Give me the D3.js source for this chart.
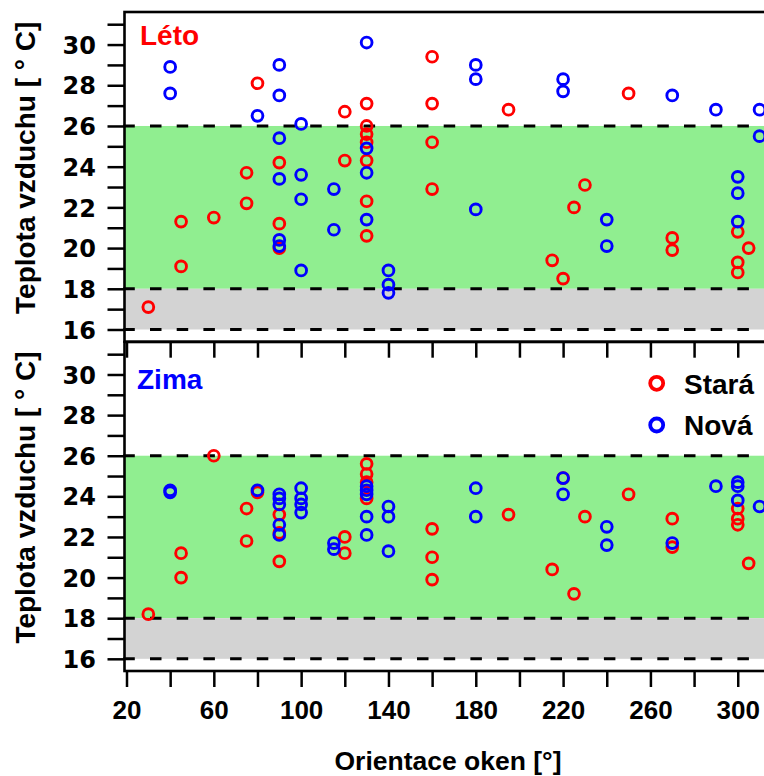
<!DOCTYPE html>
<html><head><meta charset="utf-8">
<script src="https://cdn.jsdelivr.net/npm/d3@7"></script>
<style>body{margin:0;background:#fff}svg{display:block}</style>
</head><body>
<svg id="c" width="764" height="776"></svg>
<script>
// [orientace °, teplota °C]
const letoStara = [[30,17.1],[45,21.3],[45,19.1],[60,21.5],[75,23.7],[75,22.2],[80,28.1],[90,24.2],[90,21.2],[90,20.0],
  [120,26.7],[120,24.3],[130,27.1],[130,26.0],[130,25.6],[130,25.2],[130,24.3],[130,22.3],[130,20.6],
  [160,29.4],[160,27.1],[160,25.2],[160,22.9],[195,26.8],[215,19.4],[220,18.5],[225,22.0],[230,23.1],
  [250,27.6],[270,20.5],[270,19.9],[300,20.8],[300,19.3],[300,18.8],[305,20.0]];
const letoNova = [[40,28.9],[40,27.6],[80,26.5],[90,29.0],[90,27.5],[90,25.4],[90,23.4],[90,20.4],[90,20.1],
  [100,26.1],[100,23.6],[100,22.4],[100,18.9],[115,22.9],[115,20.9],[130,30.1],[130,24.9],[130,23.7],[130,21.4],
  [140,18.9],[140,18.2],[140,17.8],[180,29.0],[180,28.3],[180,21.9],[220,28.3],[220,27.7],[240,21.4],[240,20.1],
  [270,27.5],[290,26.8],[300,23.5],[300,22.7],[300,21.3],[310,26.8],[310,25.5]];
const zimaStara = [[30,18.2],[45,21.2],[45,20.0],[60,26.0],[75,23.4],[75,21.8],[80,24.2],[90,23.1],[90,22.2],[90,20.8],
  [120,22.0],[120,21.2],[130,25.6],[130,25.1],[130,24.7],[130,23.9],[160,22.4],[160,21.0],[160,19.9],[195,23.1],
  [215,20.4],[220,24.9],[225,19.2],[230,23.0],[250,24.1],[270,22.9],[270,21.5],[300,23.4],[300,22.9],[300,22.6],[305,20.7]];
const zimaNova = [[40,24.3],[40,24.2],[80,24.3],[90,24.1],[90,23.9],[90,23.6],[90,22.6],[90,22.1],
  [100,24.4],[100,23.9],[100,23.6],[100,23.2],[115,21.7],[115,21.4],[130,24.5],[130,24.3],[130,24.1],[130,23.0],[130,22.1],
  [140,23.5],[140,23.0],[140,21.3],[180,24.4],[180,23.0],[220,24.9],[220,24.1],[240,22.5],[240,21.6],[270,21.7],
  [290,24.5],[300,24.7],[300,24.5],[300,23.8],[310,23.5]];

const xTicks = d3.range(20, 321, 20);
const xLabels = [20, 60, 100, 140, 180, 220, 260, 300];
const yTicks = d3.range(16, 32, 1);
const yLabels = [16, 18, 20, 22, 24, 26, 28, 30];
const comfortBand = [18, 26];
const coldBand = [16, 18];
const refLines = [16, 18, 26];
const seriesNames = ["Stará", "Nová"];
const panelNames = ["Léto", "Zima"];
const xTitle = "Orientace oken [°]";
const yTitle = "Teplota vzduchu [ ° C]";

const RED = "#FF0000", BLUE = "#0000FF";
const svg = d3.select("#c");
const x = d3.scaleLinear().domain([20, 320]).range([126.5, 781.4]);
const frameL = 124.5, frameR = 800;

const panels = [
  {name: panelNames[0], color: RED, top: 12, bottom: 341.7, data: [letoStara, letoNova], xlab: false},
  {name: panelNames[1], color: BLUE, top: 342, bottom: 671, data: [zimaStara, zimaNova], xlab: true}
];

panels.forEach((p, pi) => {
  const y = d3.scaleLinear().domain([15.4, 31.6]).range([p.bottom, p.top]);
  const g = svg.append("g");
  // bands
  g.append("rect").attr("x", frameL).attr("width", frameR - frameL)
    .attr("y", y(comfortBand[1])).attr("height", y(comfortBand[0]) - y(comfortBand[1])).attr("fill", "#90EE90");
  g.append("rect").attr("x", frameL).attr("width", frameR - frameL)
    .attr("y", y(coldBand[1])).attr("height", y(coldBand[0]) - y(coldBand[1])).attr("fill", "#D3D3D3");
  // dashed lines
  g.selectAll("line.ref").data(refLines).join("line").attr("class", "ref")
    .attr("x1", 123.3).attr("x2", frameR).attr("y1", d => y(d)).attr("y2", d => y(d))
    .attr("stroke", "#000").attr("stroke-width", 3).attr("stroke-dasharray", "11.5 15.2");
  // points
  p.data.forEach((ser, si) => {
    g.append("g").selectAll("circle").data(ser).join("circle")
      .attr("cx", d => x(d[0])).attr("cy", d => y(d[1])).attr("r", 5.4)
      .attr("fill", "none").attr("stroke", si === 0 ? RED : BLUE).attr("stroke-width", 2.9);
  });
  // frame
  g.append("rect").attr("x", frameL).attr("y", p.top).attr("width", frameR - frameL).attr("height", p.bottom - p.top)
    .attr("fill", "none").attr("stroke", "#000").attr("stroke-width", 2.6);
  // y axis
  const ya = g.append("g").attr("transform", `translate(${frameL},0)`)
    .call(d3.axisLeft(y).tickValues(yTicks).tickSize(17).tickPadding(11.5)
      .tickFormat(d => yLabels.includes(d) ? d : ""));
  ya.select(".domain").remove();
  ya.selectAll("line").attr("stroke-width", 2.5);
  ya.selectAll("text").attr("font-family", "DejaVu Sans").attr("font-weight", "bold")
    .attr("font-size", 24).attr("fill", "#000").attr("dy", "0.36em");
  // x axis
  const xa = g.append("g").attr("transform", `translate(0,${p.bottom})`)
    .call(d3.axisBottom(x).tickValues(xTicks).tickSize(16).tickPadding(14)
      .tickFormat(d => (p.xlab && xLabels.includes(d)) ? d : ""));
  xa.select(".domain").remove();
  xa.selectAll("line").attr("stroke-width", 2.5);
  xa.selectAll("text").attr("font-family", "Liberation Sans").attr("font-weight", "bold")
    .attr("font-size", 26).attr("fill", "#000").attr("dy", "0.71em");
  // y title
  const cy = (p.top + p.bottom) / 2 - 9;
  g.append("text").attr("transform", `translate(35,${cy}) rotate(-90)`).attr("text-anchor", "middle")
    .attr("font-family", "Liberation Sans").attr("font-weight", "bold").attr("font-size", 28).text(yTitle);
  // panel label
  g.append("text").attr("x", pi === 0 ? 140 : 137).attr("y", pi === 0 ? 44.5 : 388.5)
    .attr("font-family", "Liberation Sans").attr("font-weight", "bold").attr("font-size", 28)
    .attr("fill", p.color).text(p.name);
});

// x title
svg.append("text").attr("x", 448).attr("y", 770).attr("text-anchor", "middle")
  .attr("font-family", "Liberation Sans").attr("font-weight", "bold").attr("font-size", 26.5).text(xTitle);

// legend
const leg = svg.append("g");
seriesNames.forEach((n, i) => {
  leg.append("circle").attr("cx", 656.7).attr("cy", 383.3 + i * 41.7).attr("r", 6.5)
    .attr("fill", "none").attr("stroke", i === 0 ? RED : BLUE).attr("stroke-width", 3.8);
  leg.append("text").attr("x", 684).attr("y", 393.5 + i * 41.7)
    .attr("font-family", "Liberation Sans").attr("font-weight", "bold").attr("font-size", 28).text(n);
});
</script>
</body></html>
